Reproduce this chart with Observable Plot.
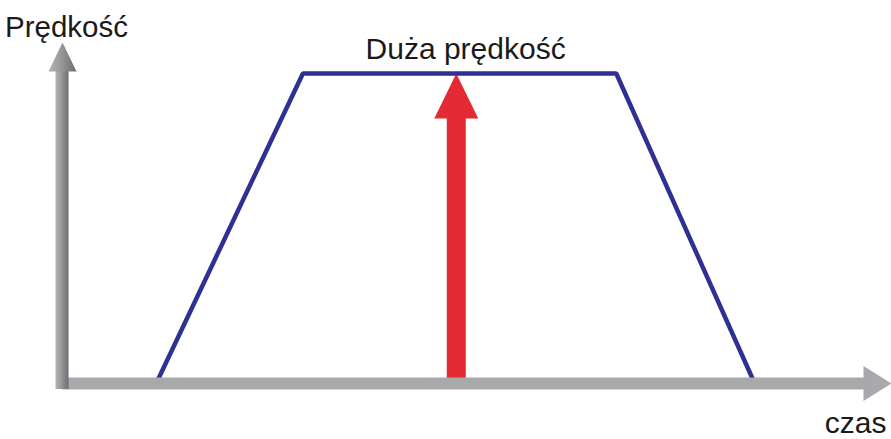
<!DOCTYPE html>
<html>
<head>
<meta charset="utf-8">
<script src="https://cdn.jsdelivr.net/npm/d3@7"></script>
<script src="https://cdn.jsdelivr.net/npm/@observablehq/plot@0.6"></script>
<style>
  html, body { margin: 0; padding: 0; background: #ffffff; }
  #chart { width: 891px; height: 439px; }
</style>
</head>
<body>
<div id="chart"></div>
<script>
// Velocity profile: accelerate, cruise at high speed, decelerate.
const profileTimes = [1.13, 2.9, 6.68, 8.35];
const profileSpeeds = [0, 10, 10, 0];

// The red arrow marking the cruising ("high") speed.
const highSpeedTime = [4.75];
const highSpeedValue = [10];

// Extent of the axes (arrow tips).
const timeEnd = 10;
const speedEnd = 11;

// Texts
const speedLabel = ["Prędkość"];
const timeLabel = ["czas"];
const highSpeedLabel = ["Duża prędkość"];

const profile = profileTimes.map((t, i) => ({t, v: profileSpeeds[i]}));
const highSpeed = highSpeedTime.map((t, i) => ({t, v: highSpeedValue[i]}));

const BLUE = "#2e3192";
const RED = "#e42a32";
const GRAY = "#a7a9ac";

// Filled triangular arrowhead with its tip at the symbol origin.
function arrowHead(width, length, direction) {
  return {
    draw(ctx) {
      if (direction === "right") {
        ctx.moveTo(0, 0);
        ctx.lineTo(-length, width / 2);
        ctx.lineTo(-length, -width / 2);
      } else {
        ctx.moveTo(0, 0);
        ctx.lineTo(width / 2, length);
        ctx.lineTo(-width / 2, length);
      }
      ctx.closePath();
    }
  };
}

// Shaded gray used by the vertical axis.
function grayGradient() {
  const defs = d3.create("svg:defs");
  const g = defs.append("linearGradient")
    .attr("id", "axisGray")
    .attr("x1", "0").attr("x2", "1").attr("y1", "0").attr("y2", "0");
  g.append("stop").attr("offset", "0%").attr("stop-color", "#b1b2b4");
  g.append("stop").attr("offset", "45%").attr("stop-color", "#97989a");
  g.append("stop").attr("offset", "100%").attr("stop-color", "#6b6c6f");
  return defs.node();
}

const FONT = 30;

const chart = Plot.plot({
  width: 891,
  height: 439,
  margin: 0,
  style: {fontFamily: "'Liberation Sans', Arial, sans-serif", background: "#ffffff", color: "#1a1a1a"},
  x: {domain: [0, timeEnd], range: [62, 891], axis: null},
  y: {domain: [0, speedEnd], range: [383, 42], axis: null},
  marks: [
    grayGradient,

    // red arrow: shaft (stops at the head's base) + head
    Plot.ruleX(highSpeed, {x: "t", y1: "v", y2: 0, stroke: RED, strokeWidth: 19, insetTop: 44}),
    Plot.dot(highSpeed, {x: "t", y: "v", symbol: arrowHead(44, 45), fill: RED, stroke: "none"}),

    // speed profile
    Plot.line(profile, {x: "t", y: "v", stroke: BLUE, strokeWidth: 4.5, strokeLinejoin: "miter"}),

    // time axis
    Plot.ruleY([0], {x1: 0, x2: timeEnd, y: d => d, stroke: GRAY, strokeWidth: 12, insetRight: 27}),
    Plot.dot([0], {x: timeEnd, y: d => d, symbol: arrowHead(35, 28, "right"), fill: GRAY, stroke: "none"}),

    // speed axis
    Plot.rect([0], {x1: d => d, x2: d => d, y1: 0, y2: speedEnd,
      insetLeft: -6.5, insetRight: -6.5, insetTop: 28, insetBottom: -6, fill: "url(#axisGray)"}),
    Plot.dot([0], {x: d => d, y: speedEnd, symbol: arrowHead(28, 29), fill: "url(#axisGray)", stroke: "none"}),

    // labels
    Plot.text(speedLabel, {x: 0, y: speedEnd, text: d => d, textAnchor: "middle", lineAnchor: "middle",
      dx: 4, dy: -14.5, fontSize: 29.5}),
    Plot.text(timeLabel, {x: timeEnd, y: 0, text: d => d, textAnchor: "end", lineAnchor: "middle",
      dx: -5, dy: 39.5, fontSize: FONT}),
    Plot.text(highSpeedLabel, {x: d3.mean(profileTimes.slice(1, 3)), y: profileSpeeds[1], text: d => d,
      textAnchor: "middle", lineAnchor: "middle", dx: 6, dy: -24.5, fontSize: FONT})
  ]
});

document.getElementById("chart").appendChild(chart);
</script>
</body>
</html>
